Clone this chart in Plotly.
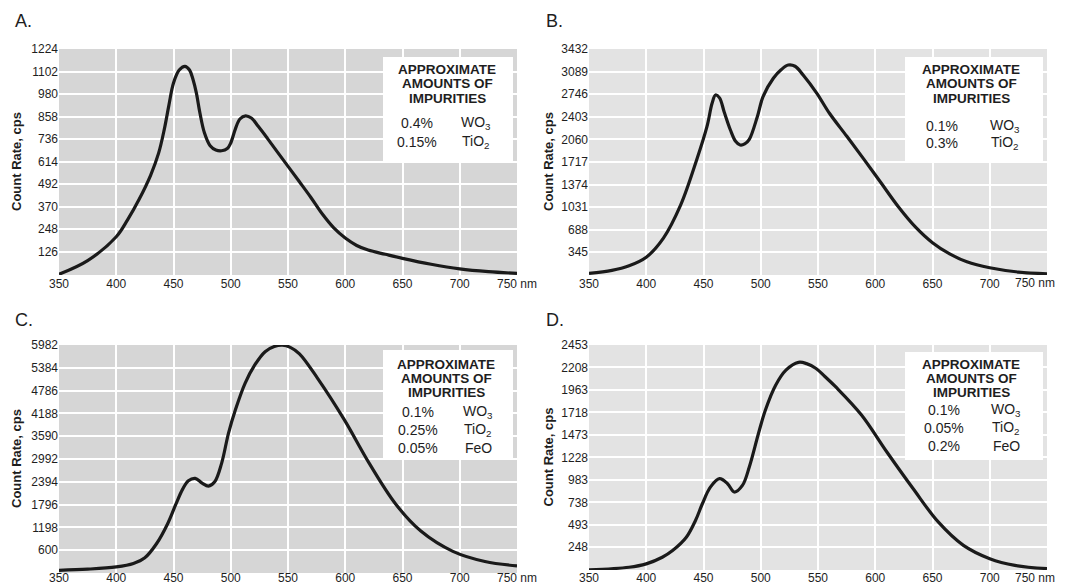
import plotly.graph_objects as go

W, H = 1067, 587          # browser window
OFF = 8                    # default page body margin of the written html
FW, FH = W - OFF, H - OFF  # figure size so that it fills the window exactly

# ---------------- data ----------------
a_nm = [350, 375, 400, 410, 420, 430, 437, 442, 446, 450, 455, 460, 464, 467, 470, 473, 477, 482, 487, 492,
        497, 500, 504, 508, 513, 518, 524, 532, 546, 560, 570, 580, 590, 600, 610, 620, 635, 650, 675, 700,
        725, 750]
a_cps = [4, 78, 207, 300, 410, 540, 660, 790, 920, 1040, 1110, 1130, 1110, 1060, 985, 880, 770, 700, 677, 673,
         685, 715, 790, 845, 862, 850, 805, 740, 622, 505, 420, 330, 255, 200, 160, 135, 112, 90, 58, 33,
         18, 9]

b_nm = [350, 370, 385, 400, 415, 430, 444, 453, 457.5, 460.5, 464, 468, 473.5, 478, 482, 486, 490, 497, 502,
        511, 518, 524, 530, 537, 549, 560, 575, 590, 605, 620, 635, 650, 665, 680, 700, 725, 750]
b_cps = [25, 70, 140, 270, 560, 1060, 1746, 2252, 2607, 2733, 2690, 2480, 2202, 2030, 1974, 1990, 2060, 2404,
         2708, 2987, 3120, 3189, 3170, 3037, 2759, 2456, 2110, 1760, 1400, 1040, 730, 490, 320, 200, 110, 45, 18]

c_nm = [350, 375, 400, 415, 425, 435, 445, 452, 458, 463, 469, 475, 480.5, 486, 492, 498, 504, 512.5, 521, 530,
        538, 545, 552, 560, 576, 599, 621, 644, 666, 694, 722, 750]
c_cps = [70, 100, 160, 250, 400, 760, 1300, 1800, 2200, 2420, 2483, 2360, 2281, 2394, 2877, 3665, 4276, 4977,
         5458, 5807, 5940, 5975, 5920, 5750, 5100, 4029, 2875, 1810, 1100, 568, 302, 186]

d_nm = [350, 385, 400, 414, 423, 435, 443, 449, 456, 464, 471, 477, 484, 490, 498, 504, 513, 522, 533, 540,
        548, 556, 566, 588, 610, 633, 655, 677, 700, 722, 750]
d_cps = [2, 30, 67, 139, 212, 357, 540, 722, 904, 996, 941, 850, 922, 1123, 1488, 1742, 2015, 2179, 2264, 2250,
         2200, 2110, 1990, 1690, 1289, 888, 524, 269, 124, 51, 15]

a_ticks = [126, 248, 370, 492, 614, 736, 858, 980, 1102, 1224]
b_ticks = [345, 688, 1031, 1374, 1717, 2060, 2403, 2746, 3089, 3432]
c_ticks = [600, 1198, 1796, 2394, 2992, 3590, 4188, 4786, 5384, 5982]
d_ticks = [248, 493, 738, 983, 1228, 1473, 1718, 1963, 2208, 2453]

x_ticks = [350, 400, 450, 500, 550, 600, 650, 700, 750]
x_ticktext = ["350", "400", "450", "500", "550", "600", "650", "700", "750 nm"]

panel_labels = ["A.", "B.", "C.", "D."]
y_title = "Count Rate, cps"
box_header = ["APPROXIMATE", "AMOUNTS OF", "IMPURITIES"]
imp_pct = [["0.4%", "0.15%"], ["0.1%", "0.3%"], ["0.1%", "0.25%", "0.05%"], ["0.1%", "0.05%", "0.2%"]]
imp_cmp = [["WO<sub>3</sub>", "TiO<sub>2</sub>"], ["WO<sub>3</sub>", "TiO<sub>2</sub>"],
           ["WO<sub>3</sub>", "TiO<sub>2</sub>", "FeO"], ["WO<sub>3</sub>", "TiO<sub>2</sub>", "FeO"]]

series = [(a_nm, a_cps, a_ticks), (b_nm, b_cps, b_ticks), (c_nm, c_cps, c_ticks), (d_nm, d_cps, d_ticks)]

# ---------------- layout geometry (window pixels) ----------------
# edge_lab: last x label placed as a right-anchored note when it would run past the window edge
panels = [
    dict(x0=59, x1=517, y0=49, y1=275, bg="#d6d6d6", lab=(13, 21), ytx=16, xstand=0, edge_lab=None,
         box=(383, 513, 57, 162), hdr_x=447, hdr_y=[69.5, 84, 98.5], pct_x=417, cmp_x=476, row_y=[123, 142]),
    dict(x0=589, x1=1047, y0=49, y1=275, bg="#e3e3e3", lab=(544, 21), ytx=548, xstand=0, edge_lab=(1057, 283),
         box=(905, 1043, 57, 162), hdr_x=971, hdr_y=[69, 84, 98.5], pct_x=942, cmp_x=1005, row_y=[126, 143]),
    dict(x0=59, x1=517, y0=345, y1=573, bg="#d6d6d6", lab=(13, 320), ytx=16, xstand=-4, edge_lab=None,
         box=(383, 513, 350, 458), hdr_x=446, hdr_y=[364.5, 378.5, 392.5], pct_x=418, cmp_x=478,
         row_y=[412, 430, 448]),
    dict(x0=589, x1=1047, y0=345, y1=570, bg="#e3e3e3", lab=(544, 320), ytx=548, xstand=-1, edge_lab=(1057, 578),
         box=(905, 1043, 352, 460), hdr_x=971, hdr_y=[364, 378, 392], pct_x=944, cmp_x=1006,
         row_y=[410, 428, 446]),
]


def px(x):
    return (x - OFF) / FW


def py(y):
    return 1 - (y - OFF) / FH


FONT = "Liberation Sans, Arial, sans-serif"
TXT = "#1e1e1e"

fig = go.Figure()
shapes = []
annotations = []
layout_axes = {}

for i, ((nm, cps, yt), p) in enumerate(zip(series, panels)):
    n = "" if i == 0 else str(i + 1)
    xa, ya = "x" + n, "y" + n
    fig.add_trace(go.Scatter(x=nm, y=cps, mode="lines", xaxis=xa, yaxis=ya,
                             line=dict(color="#1a1a1a", width=3.2, shape="spline", smoothing=1.0),
                             hoverinfo="skip", showlegend=False))
    ttext = list(x_ticktext)
    if p["edge_lab"] is not None:
        ttext[-1] = ""
        annotations.append(dict(text=x_ticktext[-1], xref="paper", yref="paper", x=px(p["edge_lab"][0]),
                                y=py(p["edge_lab"][1]), xanchor="right", yanchor="middle", showarrow=False,
                                font=dict(family=FONT, size=12, color=TXT)))
    layout_axes["xaxis" + n] = dict(
        domain=[px(p["x0"]), px(p["x1"])], anchor=ya, range=[350, 750], automargin=False,
        tickvals=x_ticks, ticktext=ttext, ticks="", showgrid=True, gridcolor="white", gridwidth=2,
        ticklabeloverflow="allow", ticklabelstandoff=p["xstand"],
        zeroline=False, showline=False, tickfont=dict(family=FONT, size=12, color=TXT), fixedrange=True)
    layout_axes["yaxis" + n] = dict(
        domain=[py(p["y1"]), py(p["y0"])], anchor=xa, range=[0, yt[-1]], automargin=False,
        tickvals=yt, ticks="", showgrid=True, gridcolor="white", gridwidth=2, ticklabeloverflow="allow",
        zeroline=False, showline=False, tickfont=dict(family=FONT, size=12, color=TXT), fixedrange=True)
    # panel background
    shapes.append(dict(type="rect", xref="paper", yref="paper", x0=px(p["x0"]), x1=px(p["x1"]),
                       y0=py(p["y1"]), y1=py(p["y0"]), fillcolor=p["bg"], line=dict(width=0), layer="below"))
    # white impurity box
    bx0, bx1, by0, by1 = p["box"]
    shapes.append(dict(type="rect", xref="paper", yref="paper", x0=px(bx0), x1=px(bx1),
                       y0=py(by1), y1=py(by0), fillcolor="white", line=dict(width=0), layer="above"))
    # panel letter
    annotations.append(dict(text=panel_labels[i], xref="paper", yref="paper", x=px(p["lab"][0]),
                            y=py(p["lab"][1]), xanchor="left", yanchor="middle", showarrow=False,
                            font=dict(family=FONT, size=18, color=TXT)))
    # y title
    annotations.append(dict(text="<b>" + y_title + "</b>", xref="paper", yref="paper", x=px(p["ytx"]),
                            y=py((p["y0"] + p["y1"]) / 2), xanchor="center", yanchor="middle",
                            textangle=-90, showarrow=False, font=dict(family=FONT, size=13, color=TXT)))
    # box header
    for t, yy in zip(box_header, p["hdr_y"]):
        annotations.append(dict(text="<b>" + t + "</b>", xref="paper", yref="paper", x=px(p["hdr_x"]),
                                y=py(yy), xanchor="center", yanchor="middle", showarrow=False,
                                font=dict(family=FONT, size=13.5, color=TXT)))
    for pc, cm, yy in zip(imp_pct[i], imp_cmp[i], p["row_y"]):
        annotations.append(dict(text=pc, xref="paper", yref="paper", x=px(p["pct_x"]), y=py(yy),
                                xanchor="center", yanchor="middle", showarrow=False,
                                font=dict(family=FONT, size=14, color=TXT)))
        annotations.append(dict(text=cm, xref="paper", yref="paper", x=px(p["cmp_x"]), y=py(yy),
                                xanchor="center", yanchor="middle", showarrow=False,
                                font=dict(family=FONT, size=14, color=TXT)))

fig.update_layout(
    width=FW, height=FH, margin=dict(l=0, r=0, t=0, b=0, autoexpand=False),
    paper_bgcolor="white", plot_bgcolor="rgba(0,0,0,0)",
    shapes=shapes, annotations=annotations, showlegend=False,
    **layout_axes,
)

fig.write_html("out.html")
